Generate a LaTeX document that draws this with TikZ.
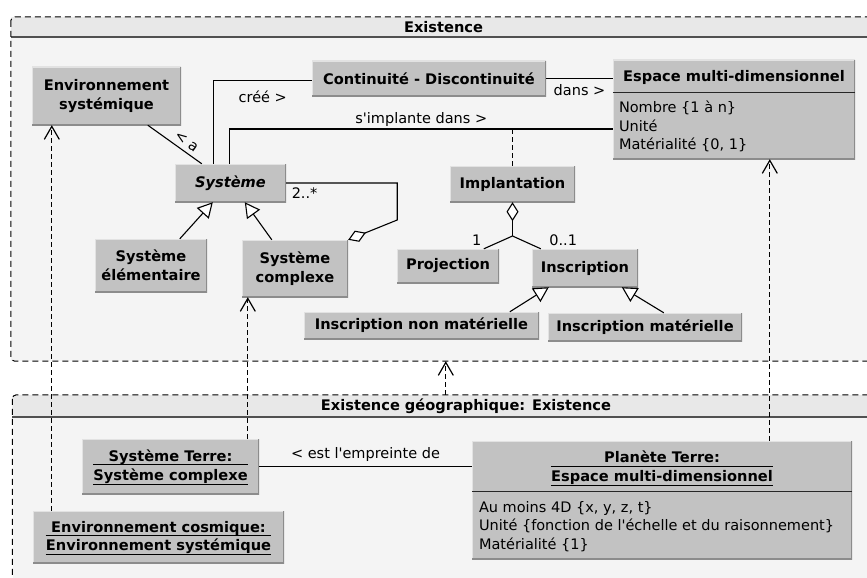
\documentclass[tikz,border=0pt]{standalone}
\usepackage{fontspec}
\newfontfamily\uifont{DejaVu Sans}
\usetikzlibrary{arrows.meta}

\definecolor{clsfill}{HTML}{C2C2C2}
\definecolor{edgelight}{HTML}{E2E2E2}
\definecolor{edgedark}{HTML}{8C8C8C}
\definecolor{pkgbody}{HTML}{F4F4F4}
\definecolor{pkghead}{HTML}{E8E8E8}
\definecolor{pkgrule}{HTML}{505050}

\tikzset{aggr/.tip={Diamond[fill=white, length=19pt, width=12pt, line width=1.1pt]}}

\begin{document}
\begin{tikzpicture}[x=1pt, y=-1pt,
  font=\uifont\fontsize{14.5}{18.5}\selectfont,
  cls/.style={fill=clsfill, inner sep=0pt, align=center,
    font=\uifont\fontsize{14.6}{18.5}\selectfont\bfseries,
    path picture={
      \draw[edgelight, line width=2pt] (path picture bounding box.south west)
        |- (path picture bounding box.north east);
      \draw[edgedark, line width=2pt] (path picture bounding box.south west)
        -| (path picture bounding box.north east);}},
  clsname/.style={inner sep=0pt, align=center,
    font=\uifont\fontsize{14.6}{18.5}\selectfont\bfseries},
  objline/.style={clsname, anchor=base},
  uline/.style={draw=black, line width=0.9pt},
  attr/.style={inner sep=0pt, align=left, anchor=north west},
  sepline/.style={draw=black!85, line width=1.1pt},
  pkg/.style={fill=pkgbody, inner sep=0pt},
  pkgborder/.style={draw=black, line width=1pt, dash pattern=on 6pt off 4pt,
    rounded corners=4pt},
  pkgtitle/.style={inner sep=0pt, font=\uifont\fontsize{14.6}{18.5}\selectfont\bfseries},
  assoc/.style={draw=black, line width=1.1pt},
  lbl/.style={inner sep=2pt},
  gen/.style={draw=black, line width=1.1pt,
    -{Triangle[fill=white, length=15pt, width=16pt, line width=1.1pt]}},
  dep/.style={draw=black, line width=1.1pt, dash pattern=on 5pt off 3pt,
    -{Straight Barb[length=13pt, width=15pt, line width=1.2pt]}},
  trace/.style={draw=black, line width=1.1pt, dash pattern=on 5pt off 3pt},
]
\useasboundingbox (0,0) rectangle (867,578);
\clip (0,0) rectangle (867,578);
\fill[white] (0,0) rectangle (867,578);

% ---------- package: Existence ----------
\node[pkg, minimum width=865pt, minimum height=344pt] (pkgA) at (443.5,189) {};
\fill[pkghead, rounded corners=3pt] ([yshift=-20.5pt]pkgA.north west) -- (pkgA.north west)
  -- (pkgA.north east) -- ([yshift=-20.5pt]pkgA.north east) -- cycle;
\draw[pkgrule, line width=2pt] ([yshift=-20.5pt]pkgA.north west) -- ([yshift=-20.5pt]pkgA.north east);
\draw[pkgborder] (pkgA.north west) rectangle (pkgA.south east);
\node[pkgtitle] (pkgAname) at (443.5,27.5) {Existence};

% ---------- package: Existence géographique ----------
\node[pkg, minimum width=907pt, minimum height=255pt] (pkgB) at (466,522.5) {};
\fill[pkghead, rounded corners=3pt] ([yshift=-22pt]pkgB.north west) -- (pkgB.north west)
  -- (pkgB.north east) -- ([yshift=-22pt]pkgB.north east) -- cycle;
\draw[pkgrule, line width=2pt] ([yshift=-22pt]pkgB.north west) -- ([yshift=-22pt]pkgB.north east);
\draw[pkgborder] (pkgB.north west) rectangle (pkgB.south east);
\node[pkgtitle] (pkgBname) at (466,406) {Existence géographique: Existence};

% ---------- classes ----------
\node[cls, minimum width=149pt, minimum height=58pt] (envsys) at (106.5,96) {Environnement\\systémique};
\node[cls, minimum width=234pt, minimum height=35pt] (cont) at (429,78.5) {Continuité - Discontinuité};
\node[cls, minimum width=242pt, minimum height=99pt] (espace) at (734,109.5) {};
\node[clsname] (espacename) at (734,77) {Espace multi-dimensionnel};
\draw[sepline] ([yshift=-32.5pt]espace.north west) -- ([yshift=-32.5pt]espace.north east);
\node[attr] (espaceattr) at ([xshift=6pt, yshift=-41pt]espace.north west)
  {Nombre \{1 à n\}\\Unité\\Matérialité \{0, 1\}};

\node[cls, minimum width=111pt, minimum height=38pt] (sys) at (230.5,183) {\itshape Système};
\node[cls, minimum width=112pt, minimum height=53pt] (syselem) at (151,265.5) {Système\\élémentaire};
\node[cls, minimum width=106pt, minimum height=57pt] (syscomp) at (295,268.5) {Système\\complexe};

\node[cls, minimum width=125pt, minimum height=36pt] (impl) at (512.5,184) {Implantation};
\node[cls, minimum width=102pt, minimum height=34pt] (proj) at (448,266) {Projection};
\node[cls, minimum width=106pt, minimum height=38pt] (inscr) at (585,268) {Inscription};
\node[cls, minimum width=235pt, minimum height=27pt] (inm) at (421.5,325.5) {Inscription non matérielle};
\node[cls, minimum width=194pt, minimum height=28pt] (im) at (645,327) {Inscription matérielle};

% ---------- objects ----------
\node[cls, minimum width=177pt, minimum height=55pt] (sterre) at (170.5,466.5) {};
\node[objline] (sterreA) at (170.5,461.5) {Système Terre:};
\node[objline] (sterreB) at (170.5,480.5) {Système complexe};
\coordinate (sterreU) at ([yshift=-3pt]sterreA.base);
\draw[uline] (sterreU -| sterreB.west) -- (sterreU -| sterreB.east);
\draw[uline] ([yshift=-3.5pt]sterreB.base west) -- ([yshift=-3.5pt]sterreB.base east);

\node[cls, minimum width=251pt, minimum height=52pt] (envcos) at (158.5,537) {};
\node[objline] (envcosA) at (158.5,532.5) {Environnement cosmique:};
\node[objline] (envcosB) at (158.5,550.5) {Environnement systémique};
\coordinate (envcosU) at ([yshift=-3pt]envcosA.base);
\draw[uline] (envcosU -| envcosB.west) -- (envcosU -| envcosB.east);
\draw[uline] ([yshift=-3.5pt]envcosB.base west) -- ([yshift=-3.5pt]envcosB.base east);

\node[cls, minimum width=380pt, minimum height=118pt] (planete) at (662,500) {};
\node[objline] (planeteA) at (662,462.5) {Planète Terre:};
\node[objline] (planeteB) at (662,481.5) {Espace multi-dimensionnel};
\coordinate (planeteU) at ([yshift=-3.5pt]planeteA.base);
\draw[uline] (planeteU -| planeteB.west) -- (planeteU -| planeteB.east);
\draw[uline] ([yshift=-4pt]planeteB.base west) -- ([yshift=-4pt]planeteB.base east);
\draw[sepline] ([yshift=-51pt]planete.north west) -- ([yshift=-51pt]planete.north east);
\node[attr] (planeteattr) at ([xshift=7pt, yshift=-60pt]planete.north west)
  {Au moins 4D \{x, y, z, t\}\\Unité \{fonction de l'échelle et du raisonnement\}\\Matérialité \{1\}};

% ---------- associations ----------
\draw[assoc] ([xshift=116pt]envsys.south west) --
  node[lbl, sloped, above=3pt, pos=0.62, inner sep=1pt] {< a} ([xshift=27pt]sys.north west);
\draw[assoc] ([xshift=39pt]sys.north west) |-
  node[lbl, pos=0.75, below=8pt] {créé >} ([yshift=-2pt]cont.west);
\draw[assoc] ([xshift=55pt]sys.north west) |-
  node[lbl, pos=0.75, above] {s'implante dans >} ([yshift=-19.5pt]espace.west);
\draw[assoc] (cont.east) -- node[lbl, below=3pt] {dans >} (cont.east -| espace.west);

\coordinate (impljoin) at (512.5,129);
\draw[trace] (impljoin) -- (impl.north);

\draw[assoc, -aggr] (sys.east) -- node[lbl, pos=0, below right, xshift=3pt, yshift=-2pt] {2..*} ++(111,0)
  -- ++(0,37) -- (syscomp.north east);

\draw[gen] ([xshift=85pt]syselem.north west) -- ([xshift=38pt]sys.south west);
\draw[gen] ([xshift=30pt]syscomp.north west) -- ([xshift=70pt]sys.south west);

\coordinate (implsplit) at (512.5,236);
\draw[assoc, aggr-] (impl.south) -- (implsplit);
\draw[assoc] (implsplit) -- ([xshift=87pt]proj.north west) node[lbl, above left, yshift=1pt] {1};
\draw[assoc] (implsplit) -- ([xshift=9pt]inscr.north west) node[lbl, above right, xshift=6pt, yshift=1pt] {0..1};

\draw[gen] ([xshift=206pt]inm.north west) -- ([xshift=17pt]inscr.south west);
\draw[gen] ([xshift=116pt]im.north west) -- ([xshift=90pt]inscr.south west);

\draw[assoc] (sterre.east) -- node[lbl, above, yshift=2pt] {< est l'empreinte de} (sterre.east -| planete.west);

% ---------- dependencies ----------
\draw[dep] ([xshift=19pt]envcos.north west) coordinate (envdep) -- (envdep |- envsys.south);
\draw[dep] ([xshift=166pt]sterre.north west) coordinate (sysdep) -- (sysdep |- syscomp.south);
\draw[dep] ([xshift=298pt]planete.north west) coordinate (espdep) -- (espdep |- espace.south);
\draw[dep] ([xshift=433.5pt]pkgB.north west) coordinate (pkgdep) -- (pkgdep |- pkgA.south);

\end{tikzpicture}
\end{document}
